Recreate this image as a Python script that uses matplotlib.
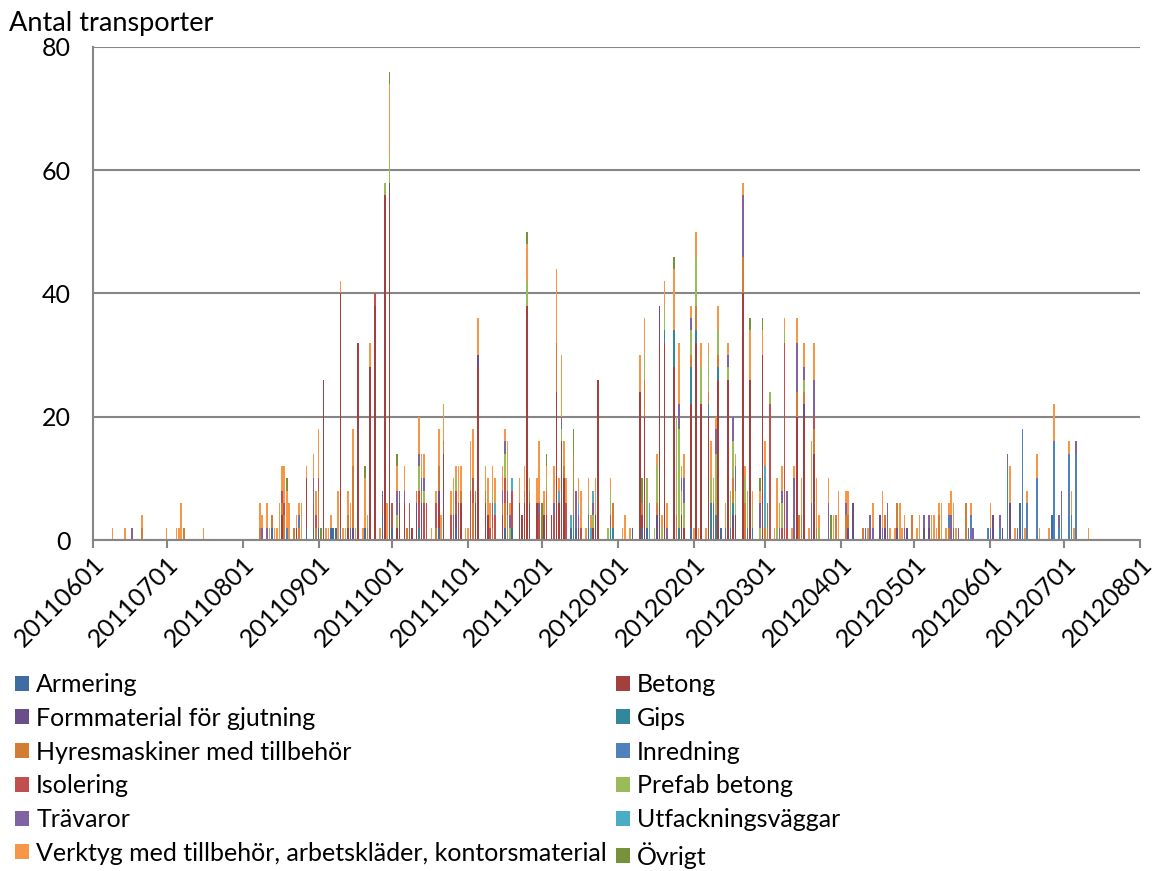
import datetime as dt

import matplotlib
matplotlib.use("Agg")
import matplotlib.dates as mdates
import matplotlib.pyplot as plt
import numpy as np
from matplotlib.patches import Patch

plt.rcParams["font.family"] = ["Lato", "DejaVu Sans"]

# antal transporter per dag och materialgrupp
armering = {"20110813": 2, "20110827": 2, "20110830": 2, "20110901": 2, "20110906": 2, "20110907": 2,
            "20110908": 2, "20110910": 2, "20110914": 2, "20110920": 2, "20110927": 4, "20111001": 2,
            "20111020": 2, "20111027": 2, "20111116": 2, "20111119": 2, "20111213": 2, "20111215": 2,
            "20111220": 2, "20120107": 2, "20120111": 2, "20120113": 2, "20120131": 2, "20120212": 2,
            "20120613": 6, "20120626": 4}
betong = {"20110817": 4, "20110823": 2, "20110827": 8, "20110903": 26, "20110910": 38, "20110913": 2,
          "20110917": 32, "20110922": 28, "20110924": 38, "20110928": 56, "20110930": 56, "20111003": 2,
          "20111004": 6, "20111006": 6, "20111009": 2, "20111011": 2, "20111013": 2, "20111020": 4,
          "20111022": 14, "20111029": 6, "20111104": 6, "20111105": 28, "20111108": 6, "20111109": 4,
          "20111115": 4, "20111122": 6, "20111123": 4, "20111124": 6, "20111125": 38, "20111126": 6,
          "20111129": 6, "20111202": 4, "20111203": 4, "20111205": 4, "20111207": 24, "20111208": 6,
          "20111209": 16, "20111210": 10, "20111216": 2, "20111222": 2, "20111223": 4, "20111224": 26,
          "20120110": 24, "20120111": 2, "20120112": 20, "20120118": 32, "20120120": 32, "20120124": 28,
          "20120127": 4, "20120128": 2, "20120131": 20, "20120202": 32, "20120204": 22, "20120207": 20,
          "20120211": 26, "20120215": 26, "20120217": 2, "20120218": 4, "20120221": 40, "20120224": 26,
          "20120229": 30, "20120314": 20, "20120317": 20, "20120321": 14}
formmaterial = {"20110915": 2, "20110930": 2, "20111011": 4, "20111013": 4, "20111020": 2, "20111027": 2,
                "20111105": 2, "20120117": 4, "20120118": 6, "20120217": 2, "20120317": 2, "20120404": 2,
                "20120406": 6, "20120417": 4, "20120419": 2, "20120424": 2, "20120428": 2, "20120505": 2,
                "20120507": 2, "20120602": 4, "20120606": 2, "20120609": 6}
gips = {"20111012": 2, "20111214": 4, "20111220": 2, "20111229": 2, "20111230": 2, "20120120": 2,
        "20120124": 6, "20120126": 2, "20120131": 6, "20120202": 2, "20120207": 2, "20120208": 6,
        "20120210": 4, "20120211": 2, "20120216": 2, "20120217": 2, "20120223": 2, "20120225": 2}
hyresmaskiner = {"20110621": 2, "20110708": 2, "20110808": 2, "20110813": 2, "20110817": 2, "20110818": 4,
                 "20110822": 2, "20110824": 2, "20110831": 2, "20110901": 6, "20110913": 2, "20110915": 10,
                 "20110921": 2, "20111007": 2, "20111011": 2, "20111013": 2, "20111019": 2, "20111020": 4,
                 "20111022": 2, "20111029": 2, "20111103": 6, "20111104": 2, "20111108": 2, "20111111": 2,
                 "20111115": 2, "20111116": 4, "20111117": 4, "20111124": 2, "20111126": 2, "20111203": 4,
                 "20111207": 8, "20111210": 2, "20111214": 10, "20111230": 4, "20120111": 2, "20120112": 6,
                 "20120117": 2, "20120125": 4, "20120131": 2, "20120202": 4, "20120207": 2, "20120211": 2,
                 "20120217": 4, "20120221": 6, "20120222": 6, "20120301": 2, "20120302": 2, "20120314": 4,
                 "20120315": 4, "20120316": 4, "20120317": 2, "20120321": 4, "20120322": 2, "20120330": 4,
                 "20120403": 4, "20120404": 2, "20120410": 2, "20120419": 2, "20120424": 4, "20120430": 4,
                 "20120511": 4, "20120515": 2, "20120522": 6}
inredning = {"20110819": 2, "20110824": 2, "20120515": 2, "20120524": 4, "20120531": 2, "20120605": 2,
             "20120608": 12, "20120614": 18, "20120616": 6, "20120620": 10, "20120627": 16, "20120629": 2,
             "20120630": 4, "20120703": 14, "20120704": 4, "20120706": 14}
isolering = {"20110817": 2, "20110818": 2, "20110830": 4, "20110831": 2, "20110901": 2, "20110924": 2,
             "20110927": 2, "20111001": 4, "20111008": 6, "20111012": 6, "20111014": 6, "20111015": 6,
             "20111019": 4, "20111025": 4, "20111026": 4, "20111027": 4, "20111028": 6, "20111102": 8,
             "20111103": 4, "20111110": 2, "20111111": 4, "20111112": 4, "20111116": 4, "20111117": 4,
             "20111119": 6, "20111130": 4, "20111206": 4, "20111211": 6, "20111217": 2, "20111229": 2,
             "20120209": 2, "20120303": 22, "20120308": 2, "20120309": 32, "20120310": 2, "20120321": 2}
prefab_betong = {"20110928": 2, "20110930": 4, "20111003": 2, "20111012": 4, "20111014": 2, "20111026": 2,
                 "20111027": 2, "20111102": 2, "20111111": 2, "20111116": 4, "20111118": 2, "20111125": 4,
                 "20111203": 2, "20111209": 2, "20111220": 2, "20111222": 2, "20111228": 2, "20111229": 4,
                 "20120112": 4, "20120113": 8, "20120116": 2, "20120117": 6, "20120119": 2, "20120120": 4,
                 "20120125": 16, "20120126": 16, "20120127": 4, "20120128": 4, "20120131": 4, "20120202": 8,
                 "20120204": 6, "20120207": 6, "20120208": 4, "20120210": 10, "20120211": 4, "20120215": 2,
                 "20120216": 6, "20120217": 6, "20120218": 4, "20120222": 4, "20120223": 4, "20120225": 4,
                 "20120228": 2, "20120303": 2, "20120306": 2, "20120308": 4, "20120309": 2, "20120317": 2,
                 "20120323": 2}
travaror = {"20110617": 2, "20110809": 2, "20110811": 2, "20110830": 4, "20110927": 2, "20111003": 4,
            "20111004": 2, "20111006": 2, "20111012": 2, "20111013": 2, "20111014": 2, "20111115": 2,
            "20111116": 2, "20111118": 2, "20111130": 2, "20111206": 2, "20111209": 2, "20111215": 6,
            "20111216": 2, "20111222": 2, "20120121": 2, "20120126": 4, "20120127": 2, "20120128": 4,
            "20120131": 2, "20120209": 4, "20120210": 4, "20120214": 2, "20120215": 2, "20120217": 4,
            "20120218": 4, "20120221": 10, "20120228": 4, "20120307": 2, "20120308": 2, "20120310": 6,
            "20120313": 10, "20120314": 8, "20120317": 2, "20120320": 6, "20120321": 6, "20120327": 6,
            "20120403": 2, "20120411": 2, "20120413": 4, "20120414": 2, "20120418": 2, "20120420": 6,
            "20120427": 2, "20120505": 2, "20120507": 2, "20120516": 4, "20120517": 2, "20120519": 2,
            "20120523": 2, "20120525": 2, "20120601": 2, "20120605": 2, "20120608": 2, "20120612": 2,
            "20120629": 2, "20120630": 4, "20120706": 2}
utfackningsvaggar = {"20111112": 2, "20111119": 2, "20111208": 2, "20111213": 2, "20111216": 2,
                     "20111221": 2, "20111222": 2, "20120114": 6, "20120301": 10}
verktyg = {"20110609": 2, "20110614": 2, "20110621": 2, "20110701": 2, "20110705": 2, "20110706": 2,
           "20110707": 6, "20110716": 2, "20110808": 4, "20110809": 2, "20110811": 4, "20110812": 2,
           "20110814": 2, "20110815": 2, "20110816": 6, "20110817": 4, "20110818": 6, "20110819": 6,
           "20110820": 6, "20110823": 2, "20110824": 2, "20110825": 6, "20110827": 2, "20110830": 4,
           "20110831": 4, "20110901": 8, "20110904": 2, "20110905": 2, "20110906": 2, "20110909": 8,
           "20110910": 2, "20110911": 2, "20110912": 2, "20110913": 4, "20110914": 4, "20110915": 6,
           "20110916": 2, "20110919": 2, "20110920": 8, "20110921": 2, "20110922": 4, "20110926": 2,
           "20110929": 6, "20110930": 12, "20111003": 4, "20111006": 4, "20111012": 6, "20111013": 4,
           "20111014": 4, "20111017": 2, "20111019": 2, "20111020": 6, "20111021": 4, "20111022": 6,
           "20111025": 4, "20111026": 4, "20111027": 2, "20111028": 6, "20111029": 4, "20111031": 2,
           "20111101": 2, "20111102": 6, "20111103": 8, "20111105": 6, "20111108": 4, "20111109": 6,
           "20111110": 4, "20111111": 4, "20111112": 4, "20111115": 4, "20111116": 2, "20111117": 8,
           "20111118": 2, "20111122": 4, "20111124": 4, "20111125": 6, "20111126": 2, "20111129": 4,
           "20111130": 10, "20111202": 4, "20111203": 2, "20111206": 6, "20111207": 12, "20111208": 2,
           "20111209": 10, "20111210": 4, "20111211": 4, "20111216": 4, "20111217": 6, "20111219": 2,
           "20111220": 4, "20111221": 2, "20111223": 6, "20111229": 2, "20120103": 2, "20120104": 4,
           "20120106": 2, "20120110": 6, "20120112": 6, "20120117": 2, "20120119": 2, "20120120": 4,
           "20120121": 4, "20120124": 10, "20120126": 10, "20120127": 2, "20120128": 4, "20120131": 2,
           "20120201": 2, "20120202": 4, "20120203": 2, "20120204": 4, "20120206": 2, "20120207": 2,
           "20120208": 6, "20120209": 4, "20120210": 2, "20120211": 4, "20120214": 4, "20120215": 2,
           "20120218": 2, "20120221": 2, "20120222": 2, "20120223": 2, "20120224": 8, "20120225": 2,
           "20120228": 2, "20120229": 4, "20120301": 4, "20120305": 2, "20120306": 8, "20120307": 4,
           "20120308": 4, "20120309": 2, "20120312": 2, "20120313": 2, "20120314": 4, "20120316": 6,
           "20120317": 4, "20120319": 2, "20120320": 10, "20120321": 6, "20120322": 8, "20120323": 2,
           "20120327": 4, "20120329": 4, "20120331": 8, "20120403": 2, "20120404": 4, "20120412": 2,
           "20120414": 4, "20120418": 6, "20120421": 2, "20120423": 2, "20120425": 6, "20120426": 2,
           "20120427": 2, "20120502": 2, "20120503": 4, "20120508": 4, "20120509": 4, "20120510": 2,
           "20120511": 2, "20120512": 6, "20120514": 2, "20120515": 2, "20120516": 4, "20120517": 4,
           "20120518": 2, "20120524": 2, "20120601": 4, "20120609": 6, "20120611": 2, "20120615": 2,
           "20120616": 2, "20120620": 4, "20120621": 2, "20120625": 2, "20120627": 6, "20120703": 2,
           "20120704": 4, "20120705": 2, "20120711": 2}
ovrigt = {"20110819": 2, "20110902": 2, "20110920": 2, "20110930": 2, "20111003": 2, "20111125": 2,
          "20111201": 6, "20111203": 2, "20111214": 4, "20120111": 4, "20120124": 2, "20120224": 2,
          "20120228": 2, "20120229": 2, "20120302": 4, "20120328": 4}

series_names = ["Armering", "Betong", "Formmaterial för gjutning", "Gips",
                "Hyresmaskiner med tillbehör", "Inredning", "Isolering", "Prefab betong",
                "Trävaror", "Utfackningsväggar",
                "Verktyg med tillbehör, arbetskläder, kontorsmaterial", "Övrigt"]
series_values = [armering, betong, formmaterial, gips, hyresmaskiner, inredning, isolering,
                 prefab_betong, travaror, utfackningsvaggar, verktyg, ovrigt]
colors = ["#3E6CA3", "#A33F3C", "#694E8A", "#33879C", "#D47B34", "#4F81BD",
          "#C0504D", "#9BBB59", "#8064A2", "#4BACC6", "#F79646", "#76933C"]
month_ticks = ["20110601", "20110701", "20110801", "20110901", "20111001", "20111101", "20111201",
               "20120101", "20120201", "20120301", "20120401", "20120501", "20120601", "20120701",
               "20120801"]


def to_num(s):
    return mdates.date2num(dt.datetime.strptime(s, "%Y%m%d"))


all_days = sorted(set().union(*[s.keys() for s in series_values]))
x = np.array([to_num(d) for d in all_days])

fig = plt.figure(figsize=(11.55, 8.71), dpi=100)
ax = fig.add_axes([93 / 1155, 331 / 871, 1047 / 1155, 493 / 871])

bottom = np.zeros(len(x))
for name, vals, col in zip(series_names, series_values, colors):
    h = np.array([vals.get(d, 0) for d in all_days], dtype=float)
    ax.bar(x, h, width=0.65, bottom=bottom, color=col, linewidth=0, label=name)
    bottom += h

grey = "#868686"
fs = 18
ax.set_ylim(0, 80)
ax.set_yticks([0, 20, 40, 60, 80])
ax.yaxis.grid(True, color=grey, linewidth=1.5)
ax.set_axisbelow(True)
ax.set_xlim(to_num(month_ticks[0]), to_num(month_ticks[-1]))
ax.set_xticks([to_num(m) for m in month_ticks])
ax.set_xticklabels(month_ticks, rotation=45, ha="right", rotation_mode="anchor")
for s in ["top", "right"]:
    ax.spines[s].set_visible(False)
for s in ["left", "bottom"]:
    ax.spines[s].set_color(grey)
    ax.spines[s].set_linewidth(1.5)
ax.tick_params(axis="x", colors=grey, length=6, width=1.5, labelsize=fs, labelcolor="black", pad=3)
ax.tick_params(axis="y", colors=grey, length=0, width=1.5, labelsize=fs, labelcolor="black", pad=16)

fig.text(9 / 1155, 1 - 24 / 871, "Antal transporter", fontsize=19.5, va="center", ha="left")

handles = [Patch(facecolor=c, edgecolor="none") for c in colors]
order = list(range(0, 12, 2)) + list(range(1, 12, 2))
fig.legend([handles[i] for i in order], [series_names[i] for i in order],
           ncol=2, loc="upper left", bbox_to_anchor=(15 / 1155, 1 - 673 / 871),
           frameon=False, fontsize=fs, handlelength=0.55, handleheight=0.55,
           handletextpad=0.3, columnspacing=0.35, labelspacing=0.43, borderaxespad=0,
           borderpad=0)

fig.savefig("out.png", dpi=100)
